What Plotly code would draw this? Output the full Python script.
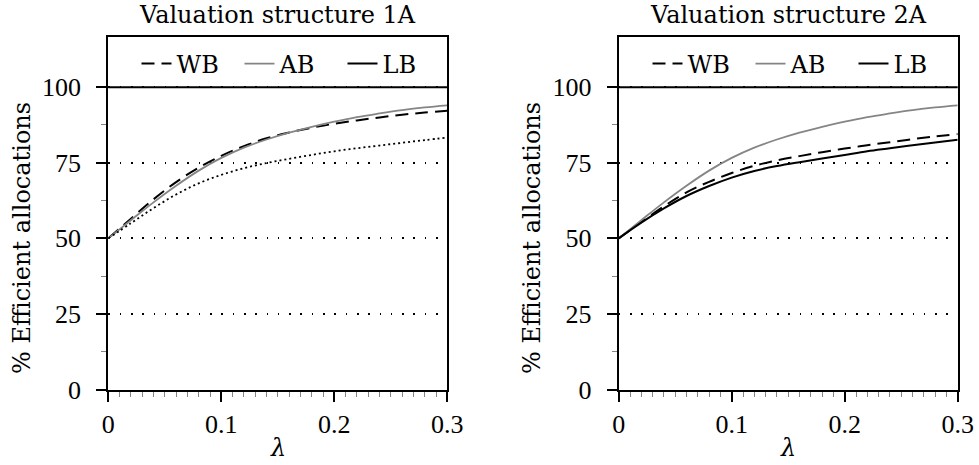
import plotly.graph_objects as go

# ---- data ----
lam = [0.00, 0.02, 0.04, 0.06, 0.08, 0.10, 0.12, 0.14, 0.16, 0.18,
       0.20, 0.22, 0.24, 0.26, 0.28, 0.30]

# Valuation structure 1A
wb_1a = [50.0, 56.5, 62.9, 68.6, 73.4, 77.3, 80.5, 83.1, 85.0, 86.6,
         87.9, 89.0, 90.0, 90.9, 91.6, 92.2]
ab_1a = [50.0, 56.0, 61.9, 67.4, 72.4, 76.6, 80.0, 82.7, 85.0, 86.9,
         88.6, 90.1, 91.3, 92.4, 93.3, 94.0]
lb_1a = [50.0, 55.0, 60.0, 64.5, 68.2, 71.0, 73.2, 74.9, 76.3, 77.6,
         78.8, 79.8, 80.7, 81.6, 82.5, 83.3]

# Valuation structure 2A
wb_2a = [50.0, 55.4, 60.6, 65.2, 68.7, 71.6, 74.0, 75.8, 77.2, 78.5,
         79.7, 80.8, 81.8, 82.8, 83.7, 84.5]
ab_2a = [50.0, 56.0, 61.9, 67.4, 72.4, 76.6, 80.0, 82.7, 85.0, 86.9,
         88.6, 90.1, 91.3, 92.4, 93.3, 94.0]
lb_2a = [50.0, 55.2, 59.9, 64.0, 67.3, 70.1, 72.3, 73.9, 75.2, 76.4,
         77.6, 78.8, 79.8, 80.8, 81.7, 82.6]

panel_titles = ["Valuation structure 1A", "Valuation structure 2A"]
series_names = ["WB", "AB", "LB"]
x_tickvals = [0, 0.1, 0.2, 0.3]
x_ticktext = ["0", "0.1", "0.2", "0.3"]
y_tickvals = [0, 25, 50, 75, 100]
y_ticktext = ["0", "25", "50", "75", "100"]
x_minor = [round(i * 0.01, 2) for i in range(1, 30)]
y_minor = [12.5, 37.5, 62.5, 87.5]
y_label = "% Efficient allocations"
x_label = "<i>λ</i>"

# ---- style ----
TFONT = "DejaVu Serif"      # text font (titles, legend, labels)
NFONT = "Liberation Serif"  # numeral font (tick labels)
TFS = 24
NFS = 26
W, H = 979, 465
GREY = "#858585"
DASH = "13px,7px"
DOT = "2px,3px"


def px(xr):
    return xr / W


def py(yr):
    return (H - yr) / H


xdom = [[px(108.3), px(447.3)], [px(618.7), px(957.7)]]
ydom = [py(389.5), py(37.3)]
YMAX = 116.5

fig = go.Figure()


def add_panel(i, wb, ab, lb, lb_dash):
    xa = "x" if i == 0 else "x2"
    ya = "y" if i == 0 else "y2"
    lg = "legend" if i == 0 else "legend2"
    fig.add_trace(go.Scatter(x=lam, y=wb, mode="lines", name=series_names[0],
                             line=dict(color="black", width=2, dash=DASH, shape="spline"),
                             xaxis=xa, yaxis=ya, legend=lg))
    fig.add_trace(go.Scatter(x=lam, y=ab, mode="lines", name=series_names[1],
                             line=dict(color=GREY, width=1.8, shape="spline"),
                             xaxis=xa, yaxis=ya, legend=lg))
    if lb_dash is None:
        fig.add_trace(go.Scatter(x=lam, y=lb, mode="lines", name=series_names[2],
                                 line=dict(color="black", width=2, shape="spline"),
                                 xaxis=xa, yaxis=ya, legend=lg))
    else:
        fig.add_trace(go.Scatter(x=lam, y=lb, mode="lines", showlegend=False,
                                 line=dict(color="black", width=1.8, dash=lb_dash, shape="spline"),
                                 xaxis=xa, yaxis=ya))
        fig.add_trace(go.Scatter(x=[None], y=[None], mode="lines", name=series_names[2],
                                 line=dict(color="black", width=2),
                                 xaxis=xa, yaxis=ya, legend=lg))


add_panel(0, wb_1a, ab_1a, lb_1a, DOT)
add_panel(1, wb_2a, ab_2a, lb_2a, None)

tickfont = dict(family=NFONT, size=NFS, color="black")


def main_x(dom, anchor):
    return dict(domain=dom, anchor=anchor, range=[0, 0.3], automargin=False,
                tickmode="array", tickvals=x_tickvals, ticktext=x_ticktext,
                ticks="outside", ticklen=10, tickwidth=1.5, tickcolor="black",
                ticklabelstandoff=0, tickfont=tickfont,
                minor=dict(tickmode="array", tickvals=x_minor, ticks="outside",
                           ticklen=5, tickwidth=1.2, tickcolor=GREY, showgrid=False),
                showline=True, linecolor="black", linewidth=2, mirror=True,
                showgrid=False, zeroline=False)


def over_x(over, anchor, dom):
    return dict(domain=dom, overlaying=over, anchor=anchor, range=[0, 0.3],
                automargin=False, tickmode="array", tickvals=x_tickvals,
                showticklabels=False, ticks="inside", ticklen=10, tickwidth=1.5,
                tickcolor="black",
                minor=dict(tickmode="array", tickvals=x_minor, ticks="inside",
                           ticklen=5, tickwidth=1.2, tickcolor=GREY, showgrid=False),
                showline=False, showgrid=False, zeroline=False)


def main_y(anchor):
    return dict(domain=ydom, anchor=anchor, range=[0, YMAX], automargin=False,
                tickmode="array", tickvals=y_tickvals, ticktext=y_ticktext,
                ticks="outside", ticklen=10, tickwidth=1.5, tickcolor="black",
                ticklabelstandoff=10, tickfont=tickfont,
                minor=dict(tickmode="array", tickvals=y_minor, ticks="outside",
                           ticklen=5, tickwidth=1.2, tickcolor=GREY, showgrid=False),
                showline=True, linecolor="black", linewidth=2, mirror=True,
                showgrid=True, gridcolor="black", gridwidth=1.6, griddash="1.6px,9.7px",
                zeroline=False)


def over_y(over, anchor):
    return dict(domain=ydom, overlaying=over, anchor=anchor, range=[0, YMAX],
                automargin=False, tickmode="array", tickvals=y_tickvals,
                showticklabels=False, ticks="inside", ticklen=10, tickwidth=1.5,
                tickcolor="black",
                minor=dict(tickmode="array", tickvals=y_minor, ticks="inside",
                           ticklen=5, tickwidth=1.2, tickcolor=GREY, showgrid=False),
                showline=False, showgrid=False, zeroline=False)


legend_style = dict(orientation="h", xanchor="center", yanchor="middle",
                    bgcolor="rgba(0,0,0,0)", borderwidth=0,
                    font=dict(family=TFONT, size=TFS, color="black"),
                    itemwidth=30, tracegroupgap=0,
                    entrywidth=58, entrywidthmode="pixels")

fig.update_layout(
    template="none",
    width=W, height=H,
    margin=dict(l=0, r=0, t=0, b=0),
    paper_bgcolor="white", plot_bgcolor="white",
    font=dict(family=TFONT, size=TFS, color="black"),
    xaxis=main_x(xdom[0], "y"),
    yaxis=main_y("x"),
    xaxis2=main_x(xdom[1], "y2"),
    yaxis2=main_y("x2"),
    xaxis3=over_x("x", "y", xdom[0]),
    yaxis3=over_y("y", "x"),
    xaxis4=over_x("x2", "y2", xdom[1]),
    yaxis4=over_y("y2", "x2"),
    legend=dict(x=px(291), y=py(64), **legend_style),
    legend2=dict(x=px(802), y=py(64), **legend_style),
    showlegend=True,
)

# legend separator line at 100
for xr, yr in [("x domain", "y"), ("x2 domain", "y2")]:
    fig.add_shape(type="line", xref=xr, yref=yr, x0=0, x1=1, y0=100, y1=100,
                  line=dict(color="black", width=2), layer="above")

# titles and axis labels
centers = [(xdom[0][0] + xdom[0][1]) / 2, (xdom[1][0] + xdom[1][1]) / 2]
ylab_x = [px(22), px(532)]
for i in range(2):
    fig.add_annotation(text=panel_titles[i], xref="paper", yref="paper",
                       x=centers[i], y=py(15), xanchor="center", yanchor="middle",
                       showarrow=False, font=dict(family=TFONT, size=TFS))
    fig.add_annotation(text=x_label, xref="paper", yref="paper",
                       x=centers[i], y=py(448), xanchor="center", yanchor="middle",
                       showarrow=False, font=dict(family=TFONT, size=TFS))
    fig.add_annotation(text=y_label, xref="paper", yref="paper",
                       x=ylab_x[i], y=py(238), xanchor="center", yanchor="middle",
                       textangle=-90, showarrow=False, font=dict(family=TFONT, size=TFS))

fig.write_html(
    "out.html",
    config={"displayModeBar": False},
    post_script="document.body.style.margin='0px';document.body.style.overflow='hidden';",
)
